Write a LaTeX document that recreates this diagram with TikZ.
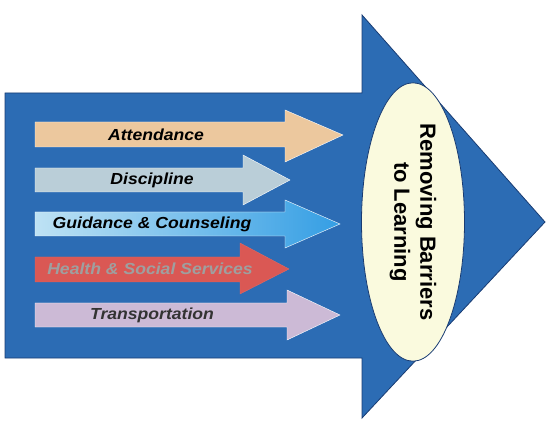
\documentclass[tikz,border=0pt]{standalone}
\usepackage{fontspec}
\setmainfont{Liberation Sans}
\usetikzlibrary{shapes.geometric}

\definecolor{bigblue}{RGB}{44,108,180}
\definecolor{darkblue}{RGB}{25,60,115}
\definecolor{tanbar}{RGB}{236,200,158}
\definecolor{greyblue}{RGB}{186,206,216}
\definecolor{skyblue}{RGB}{52,158,228}
\definecolor{paleblue}{RGB}{190,226,244}
\definecolor{brickred}{RGB}{218,88,84}
\definecolor{lavender}{RGB}{204,186,214}
\definecolor{cream}{RGB}{250,250,222}

\begin{document}
\begin{tikzpicture}[x=1pt, y=-1pt,
    barlabel/.style={font=\fontsize{16}{18}\selectfont\bfseries\itshape, xscale=1.1, inner sep=0pt},
    goalbox/.style={ellipse, draw=darkblue, fill=cream, thick, rotate=-90,
        minimum width=263pt, minimum height=103pt, inner sep=0pt, align=center,
        font=\fontsize{22}{26}\selectfont\bfseries}]
            \useasboundingbox (0, 0) rectangle (551, 427);
            % big arrow
            \filldraw[color=darkblue, fill=bigblue, thick] (5, 93)--(362, 93)--(362, 15)--(545, 222)--(362, 418)--(362, 358)--(5, 358)--cycle;
            % the five services
            \filldraw[color=white, fill=tanbar, thin] (35, 122)--(285, 122)--(285, 110)--(343, 135)--(285, 162)--(285, 147)--(35, 147)--cycle;
            \node[barlabel] (attendance) at (156, 135) {Attendance};
            \filldraw[color=white, fill=greyblue, thin] (35, 168)--(243, 168)--(243, 155)--(290, 180)--(243, 205)--(243, 192)--(35, 192)--cycle;
            \node[barlabel] (discipline) at (152, 180) {Discipline};
            \draw[color=white, left color=paleblue, right color=skyblue, thin] (35, 212)--(285, 212)--(285, 200)--(340, 224)--(285, 248)--(285, 236)--(35, 236)--cycle;
            \node[barlabel] (guidance) at (152, 224) {Guidance \& Counseling};
            \filldraw[color=brickred!90, fill=brickred, thin] (35, 257)--(240, 257)--(240, 243)--(289, 269)--(240, 294)--(240, 282)--(35, 282)--cycle;
            \node[barlabel, text=gray!75] (health) at (150, 269) {Health \& Social Services};
            \filldraw[color=white, fill=lavender, thin] (35, 303)--(287, 303)--(287, 290)--(340, 315)--(287, 340)--(287, 327)--(35, 327)--cycle;
            \node[barlabel, text=black!80] (transport) at (152, 315) {Transportation};
            % goal
            \node[goalbox] (goal) at (413, 222) {Removing Barriers\\to Learning};
        \end{tikzpicture}
\end{document}
